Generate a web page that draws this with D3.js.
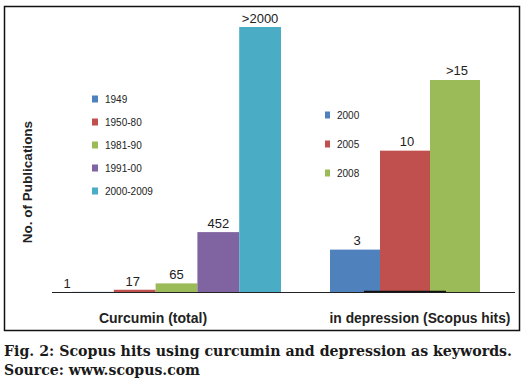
<!DOCTYPE html>
<html>

<head>
    <meta charset='utf-8'>
</head>
<style>
    body { margin: 0; background: #fff; }
    text { font-family: "Liberation Sans", Arial, sans-serif; fill: #222; }
    .bold { font-weight: bold; }
    .caption { font-family: "DejaVu Serif", serif; font-weight: bold; font-size: 14px; fill: #1a1a1a; }
</style>

<body>
    <div id='chart'></div>
    <script src="https://d3js.org/d3.v7.min.js"></script>
    <script>
        // curcumin (total) panel
        var curcuminPeriods = ['1949', '1950-80', '1981-90', '1991-00', '2000-2009'];
        var curcuminHits = [1, 17, 65, 452, 2000];
        var curcuminLabels = ['1', '17', '65', '452', '>2000'];

        // in depression panel
        var depressionYears = ['2000', '2005', '2008'];
        var depressionHits = [3, 10, 15];
        var depressionLabels = ['3', '10', '>15'];

        var curcuminColors = ['#4f81bd', '#c0504d', '#9bbb59', '#8064a2', '#4bacc6'];
        var depressionColors = ['#4f81bd', '#c0504d', '#9bbb59'];

        var width = 526, height = 384;
        var baseY = 292;

        var svg = d3.select('#chart').append('svg')
            .attr('width', width)
            .attr('height', height);

        // frame
        svg.append('rect')
            .attr('x', 4.5).attr('y', 6.5)
            .attr('width', 515).attr('height', 324)
            .attr('fill', 'none')
            .attr('stroke', '#111')
            .attr('stroke-width', 1.5);

        // left panel
        var x1 = d3.scaleBand().domain(curcuminPeriods).range([72, 281]);
        var y1 = d3.scaleLinear().domain([0, 2000]).range([baseY, 27]);

        svg.selectAll('.bar1').data(curcuminHits)
            .enter().append('rect')
            .attr('class', 'bar1')
            .attr('x', function(d, i) { return x1(curcuminPeriods[i]); })
            .attr('y', function(d) { return y1(d); })
            .attr('width', x1.bandwidth())
            .attr('height', function(d) { return baseY - y1(d); })
            .attr('fill', function(d, i) { return curcuminColors[i]; });

        svg.selectAll('.lab1').data(curcuminHits)
            .enter().append('text')
            .attr('class', 'lab1')
            .attr('x', function(d, i) { return i == 0 ? 67 : x1(curcuminPeriods[i]) + x1.bandwidth() / 2 - (i == 1 ? 2 : 0); })
            .attr('y', function(d) { return y1(d) - 4; })
            .attr('text-anchor', 'middle')
            .attr('font-size', 13)
            .text(function(d, i) { return curcuminLabels[i]; });

        // right panel
        var x2 = d3.scaleBand().domain(depressionYears).range([330, 480]);
        var y2 = d3.scaleLinear().domain([0, 15]).range([baseY, 80]);

        svg.selectAll('.bar2').data(depressionHits)
            .enter().append('rect')
            .attr('class', 'bar2')
            .attr('x', function(d, i) { return x2(depressionYears[i]); })
            .attr('y', function(d) { return y2(d); })
            .attr('width', x2.bandwidth())
            .attr('height', function(d) { return baseY - y2(d); })
            .attr('fill', function(d, i) { return depressionColors[i]; });

        svg.selectAll('.lab2').data(depressionHits)
            .enter().append('text')
            .attr('class', 'lab2')
            .attr('x', function(d, i) { return x2(depressionYears[i]) + x2.bandwidth() / 2 + 2; })
            .attr('y', function(d) { return y2(d) - 5; })
            .attr('text-anchor', 'middle')
            .attr('font-size', 13)
            .text(function(d, i) { return depressionLabels[i]; });

        // baseline
        svg.append('line')
            .attr('x1', 52).attr('x2', 515)
            .attr('y1', baseY + 0.5).attr('y2', baseY + 0.5)
            .attr('stroke', '#222').attr('stroke-width', 1.2);
        svg.append('line')
            .attr('x1', 364).attr('x2', 446)
            .attr('y1', baseY - 0.5).attr('y2', baseY - 0.5)
            .attr('stroke', '#111').attr('stroke-width', 1.5);

        // legends
        var leg1 = svg.selectAll('.leg1').data(curcuminPeriods)
            .enter().append('g')
            .attr('transform', function(d, i) { return 'translate(92,' + (99 + i * 23) + ')'; });
        leg1.append('rect')
            .attr('x', 0).attr('y', -3.5).attr('width', 6).attr('height', 7)
            .attr('fill', function(d, i) { return curcuminColors[i]; });
        leg1.append('text')
            .attr('x', 13).attr('y', 3.5)
            .attr('font-size', 10)
            .text(function(d) { return d; });

        var leg2 = svg.selectAll('.leg2').data(depressionYears)
            .enter().append('g')
            .attr('transform', function(d, i) { return 'translate(325,' + (115 + i * 29) + ')'; });
        leg2.append('rect')
            .attr('x', 0).attr('y', -3.5).attr('width', 5).attr('height', 7)
            .attr('fill', function(d, i) { return depressionColors[i]; });
        leg2.append('text')
            .attr('x', 12).attr('y', 3.5)
            .attr('font-size', 10)
            .text(function(d) { return d; });

        // axis titles
        svg.append('text')
            .attr('class', 'bold')
            .attr('transform', 'translate(32,182) rotate(-90)')
            .attr('text-anchor', 'middle')
            .attr('font-size', 13.5)
            .text('No. of Publications');

        svg.append('text')
            .attr('class', 'bold')
            .attr('x', 153).attr('y', 323)
            .attr('text-anchor', 'middle')
            .attr('font-size', 14)
            .text('Curcumin (total)');

        svg.append('text')
            .attr('class', 'bold')
            .attr('x', 420).attr('y', 323)
            .attr('text-anchor', 'middle')
            .attr('font-size', 13.8)
            .text('in depression (Scopus hits)');

        // caption
        svg.append('text')
            .attr('class', 'caption')
            .attr('x', 4).attr('y', 356)
            .attr('textLength', 508)
            .attr('lengthAdjust', 'spacingAndGlyphs')
            .text('Fig. 2: Scopus hits using curcumin and depression as keywords.');
        svg.append('text')
            .attr('class', 'caption')
            .attr('x', 4).attr('y', 375)
            .attr('textLength', 196)
            .attr('lengthAdjust', 'spacingAndGlyphs')
            .text('Source: www.scopus.com');
    </script>
</body>

</html>
